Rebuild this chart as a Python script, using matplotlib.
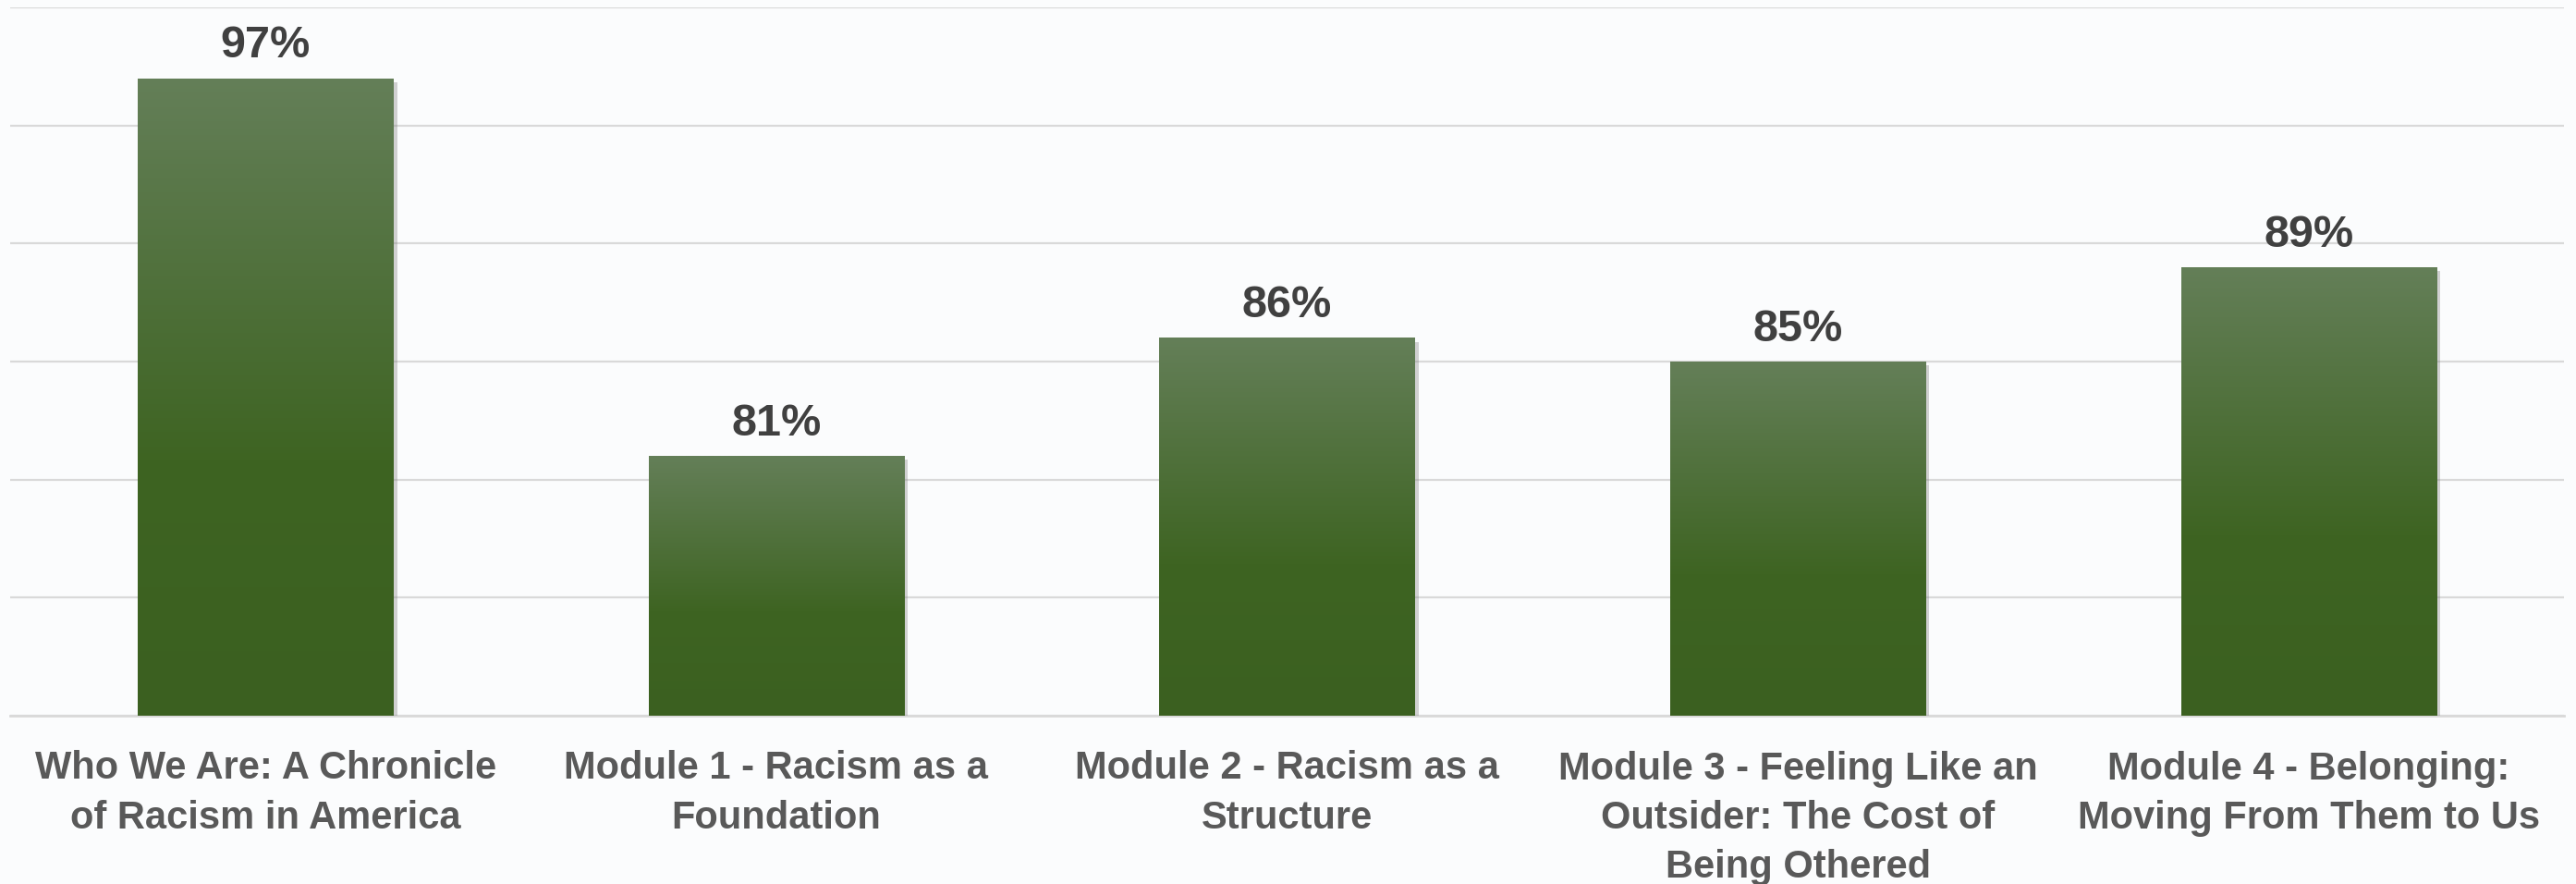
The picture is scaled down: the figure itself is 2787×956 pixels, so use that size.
import matplotlib
matplotlib.use("Agg")
import matplotlib.pyplot as plt
import matplotlib.patheffects as pe
import numpy as np
from matplotlib.colors import LinearSegmentedColormap

categories = [
    "Who We Are: A Chronicle\nof Racism in America",
    "Module 1 - Racism as a\nFoundation",
    "Module 2 - Racism as a\nStructure",
    "Module 3 - Feeling Like an\nOutsider: The Cost of\nBeing Othered",
    "Module 4 - Belonging:\nMoving From Them to Us",
]
values = [97, 81, 86, 85, 89]
y_ticks = [70, 75, 80, 85, 90, 95, 100]

plt.rcParams["font.family"] = ["Liberation Sans", "DejaVu Sans"]

fig = plt.figure(figsize=(27.87, 9.56), dpi=100)
fig.patch.set_facecolor("#fbfcfd")
ax = fig.add_axes([11 / 2787, 182 / 956, 2763 / 2787, 766 / 956])
ax.set_facecolor("none")

x = np.arange(len(values))
bars = ax.bar(x, values, width=0.5, color="#4a6d35", zorder=3)

# vertical gradient inside each bar: lighter on top, dark green at the base
cmap = LinearSegmentedColormap.from_list(
    "bar", [(0.0, "#3b6020"), (0.4, "#3e6422"), (1.0, "#647f58")]
)
grad = np.linspace(0, 1, 256).reshape(-1, 1)
for rect, val in zip(bars, values):
    rect.set_path_effects(
        [pe.SimplePatchShadow(offset=(3, -3), shadow_rgbFace="#808080", alpha=0.35), pe.Normal()]
    )
    x0 = rect.get_x()
    x1 = x0 + rect.get_width()
    im = ax.imshow(
        grad,
        extent=(x0, x1, y_ticks[0], val),
        origin="lower",
        aspect="auto",
        cmap=cmap,
        zorder=4,
    )
    im.set_clip_path(rect)
    ax.annotate(
        f"{val}%",
        (rect.get_x() + rect.get_width() / 2, val),
        xytext=(0, 16),
        textcoords="offset points",
        ha="center",
        va="baseline",
        fontsize=35,
        fontweight="bold",
        color="#404040",
        zorder=5,
    )

ax.set_xlim(-0.5, len(values) - 0.5)
ax.set_ylim(y_ticks[0], y_ticks[-1])
ax.set_yticks(y_ticks)
ax.yaxis.grid(True, color="#d9d9d9", linewidth=1.6, zorder=0)
ax.set_axisbelow(True)
ax.tick_params(axis="y", left=False, labelleft=False)
ax.tick_params(axis="x", length=0, pad=27)
ax.set_xticks(x, categories, fontsize=30, fontweight="bold", color="#595959", linespacing=1.42)
for spine in ["top", "right", "left"]:
    ax.spines[spine].set_visible(False)
ax.spines["bottom"].set_color("#d9d9d9")
ax.spines["bottom"].set_linewidth(2.0)

fig.savefig("out.png", dpi=100, facecolor=fig.get_facecolor())
